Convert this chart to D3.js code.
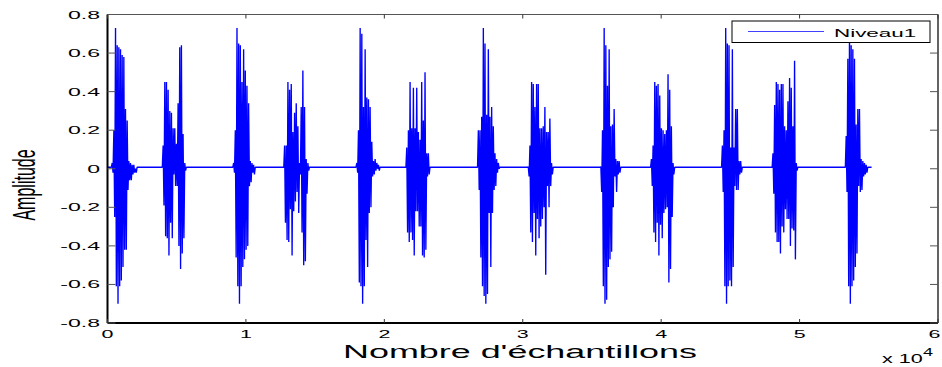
<!DOCTYPE html>
<html><head><meta charset="utf-8">
<script src="https://cdn.jsdelivr.net/npm/d3@7"></script>
<style>
body{margin:0;background:#fff}
svg{display:block}
text{font-family:"Liberation Sans",Arial,sans-serif;fill:#000}
</style>
</head><body>
<svg id="chart" width="942" height="367"></svg>
<script>
// ---- data ----
const xTickValues = [0, 10000, 20000, 30000, 40000, 50000, 60000];
const xTickLabels = ["0", "1", "2", "3", "4", "5", "6"];
const yTickValues = [0.8, 0.6, 0.4, 0.2, 0, -0.2, -0.4, -0.6, -0.8];
const yTickLabels = ["0.8", "0.6", "0.4", "0.2", "0", "-0.2", "-0.4", "-0.6", "-0.8"];
const seriesName = "Niveau1";
const xLabel = "Nombre d'échantillons";
const yLabel = "Amplitude";
const xMultiplier = "x 10";
const xExponent = "4";
const baselineLevel = 0.008;
const signalLength = 55200;
const halfPeriod = 60; // samples between a crest and the next trough
const burstStart = [340, 4020, 9115, 12795, 18013, 21620, 26793, 30400, 35642, 39297, 44423, 48078, 53367];
const burstHigh = [
  [0.03,0.20,0.73,0.64,0.63,0.62,0.59,0.58,0.31,0.25,0.04,0.03,0.02,0.02,0.00],
  [0.12,0.45,0.45,0.41,0.30,0.29,0.21,0.21,0.13,0.34,0.63,0.64,0.18,0.03],
  [0.03,0.20,0.73,0.65,0.64,0.45,0.62,0.51,0.43,0.34,0.04,0.03,0.02],
  [0.12,0.12,0.45,0.41,0.44,0.19,0.29,0.34,0.22,0.03,0.32,0.51,0.32,0.05,0.03],
  [0.03,0.20,0.73,0.70,0.32,0.62,0.37,0.36,0.32,0.14,0.04,0.05,0.03,0.02],
  [0.11,0.20,0.45,0.21,0.42,0.21,0.42,0.19,0.15,0.45,0.25,0.50,0.08,0.08],
  [0.20,0.20,0.27,0.73,0.65,0.28,0.62,0.27,0.32,0.22,0.08,0.05,0.03],
  [0.01,0.12,0.45,0.44,0.32,0.44,0.44,0.21,0.21,0.22,0.32,0.19,0.19,0.26,0.03],
  [0.01,0.20,0.73,0.64,0.43,0.62,0.22,0.23,0.31,0.05,0.04,0.04],
  [0.05,0.12,0.45,0.43,0.44,0.38,0.21,0.20,0.18,0.20,0.49,0.41,0.22,0.03],
  [0.12,0.20,0.73,0.65,0.64,0.11,0.62,0.11,0.31,0.31,0.04,0.04],
  [0.08,0.33,0.45,0.44,0.41,0.44,0.44,0.22,0.20,0.35,0.47,0.42,0.22,0.56,0.03],
  [0.17,0.57,0.73,0.64,0.62,0.57,0.23,0.31,0.31,0.05,0.04,0.03,0.02]
];
const burstLow = [
  [-0.02,-0.25,-0.61,-0.70,-0.61,-0.58,-0.51,-0.42,-0.42,-0.11,-0.06,-0.06,-0.03,-0.02,-0.02],
  [-0.19,-0.35,-0.36,-0.45,-0.28,-0.36,-0.03,-0.09,-0.09,-0.40,-0.52,-0.44,-0.36,-0.01],
  [-0.02,-0.46,-0.61,-0.70,-0.61,-0.51,-0.47,-0.42,-0.40,-0.09,-0.07,-0.02,-0.03],
  [-0.28,-0.37,-0.38,-0.21,-0.45,-0.22,-0.17,-0.12,-0.23,-0.03,-0.33,-0.50,-0.48,-0.13,-0.01],
  [-0.02,-0.59,-0.61,-0.70,-0.61,-0.37,-0.51,-0.23,-0.20,-0.04,-0.03,-0.01,0.00,-0.01],
  [-0.33,-0.38,-0.33,-0.37,-0.45,-0.22,-0.22,-0.30,-0.30,-0.45,-0.46,-0.42,-0.04,-0.03],
  [-0.11,-0.46,-0.61,-0.66,-0.70,-0.65,-0.23,-0.51,-0.23,-0.11,-0.09,-0.02,0.00],
  [-0.04,-0.33,-0.38,-0.23,-0.45,-0.26,-0.36,-0.30,-0.26,-0.20,-0.55,-0.09,-0.20,-0.09,-0.03],
  [-0.12,-0.61,-0.70,-0.68,-0.51,-0.47,-0.43,-0.20,-0.04,-0.12,-0.03,-0.02],
  [-0.09,-0.33,-0.38,-0.28,-0.45,-0.29,-0.36,-0.23,-0.21,-0.20,-0.59,-0.52,-0.25,-0.03],
  [-0.12,-0.61,-0.70,-0.61,-0.58,-0.61,-0.51,-0.09,-0.11,-0.11,-0.03,-0.02],
  [-0.13,-0.33,-0.38,-0.38,-0.44,-0.30,-0.33,-0.21,-0.26,-0.26,-0.40,-0.31,-0.32,-0.47,-0.01],
  [-0.12,-0.61,-0.70,-0.61,-0.58,-0.51,-0.44,-0.09,-0.12,-0.11,-0.04,-0.03,-0.02]
];

// ---- build the signal polyline from the readings ----
const points = [[0, baselineLevel]];
burstStart.forEach((s, b) => {
  points.push([s - halfPeriod, baselineLevel]);
  burstHigh[b].forEach((h, i) => {
    points.push([s + 2 * i * halfPeriod, h]);
    points.push([s + (2 * i + 1) * halfPeriod, burstLow[b][i]]);
  });
  points.push([s + 2 * burstHigh[b].length * halfPeriod, baselineLevel]);
});
points.push([signalLength, baselineLevel]);

// ---- layout ----
const L = 107.5, R = 938, T = 14.5, B = 323;
const x = d3.scaleLinear().domain([0, 60000]).range([L, R]);
const y = d3.scaleLinear().domain([-0.8, 0.8]).range([B, T]);
const svg = d3.select("#chart");
const SX = 2.1; // horizontal stretch of the text in the reference

// signal
svg.append("path")
  .datum(points)
  .attr("fill", "none")
  .attr("stroke", "#0000ff")
  .attr("stroke-width", 1.35)
  .attr("stroke-linejoin", "bevel")
  .attr("d", d3.line().x(d => x(d[0])).y(d => y(d[1])));

// axes box
svg.append("line").attr("x1", L).attr("x2", R).attr("y1", T).attr("y2", T).attr("stroke", "#555").attr("stroke-width", 1.2);
svg.append("line").attr("x1", R).attr("x2", R).attr("y1", T).attr("y2", B).attr("stroke", "#222").attr("stroke-width", 1.4);
svg.append("line").attr("x1", L).attr("x2", R).attr("y1", B).attr("y2", B).attr("stroke", "#000").attr("stroke-width", 1.8);
svg.append("line").attr("x1", L).attr("x2", L).attr("y1", T).attr("y2", B).attr("stroke", "#000").attr("stroke-width", 2);

// y ticks (inside, both sides)
const yt = svg.append("g");
yt.selectAll("line.l").data(yTickValues).join("line")
  .attr("x1", L).attr("x2", L + 8).attr("y1", d => y(d)).attr("y2", d => y(d))
  .attr("stroke", "#555").attr("stroke-width", 1);
yt.selectAll("line.r").data(yTickValues).join("line")
  .attr("x1", R - 8).attr("x2", R).attr("y1", d => y(d)).attr("y2", d => y(d))
  .attr("stroke", "#555").attr("stroke-width", 1);
yt.selectAll("text").data(yTickValues).join("text")
  .attr("text-anchor", "end")
  .attr("font-size", 11)
  .attr("transform", d => `translate(100,${y(d) + 4}) scale(${SX},1)`)
  .text((d, i) => yTickLabels[i]);

// x ticks (inside, both sides)
const xt = svg.append("g");
xt.selectAll("line.b").data(xTickValues).join("line")
  .attr("x1", d => x(d)).attr("x2", d => x(d)).attr("y1", B).attr("y2", B - 4)
  .attr("stroke", "#333").attr("stroke-width", 1);
xt.selectAll("line.t").data(xTickValues).join("line")
  .attr("x1", d => x(d)).attr("x2", d => x(d)).attr("y1", T).attr("y2", T + 4)
  .attr("stroke", "#333").attr("stroke-width", 1);
xt.selectAll("text").data(xTickValues).join("text")
  .attr("text-anchor", "middle")
  .attr("font-size", 11)
  .attr("transform", d => `translate(${Math.min(x(d), 934.5)},337.5) scale(1.95,1)`)
  .text((d, i) => xTickLabels[i]);

// exponent
svg.append("text").attr("font-size", 12)
  .attr("transform", "translate(882,363) scale(1.8,1)").text(xMultiplier);
svg.append("text").attr("font-size", 10)
  .attr("transform", "translate(923,356) scale(1.8,1)").text(xExponent);

// axis labels
svg.append("text").attr("text-anchor", "middle").attr("font-size", 18.6)
  .attr("transform", "translate(520,358) scale(1.93,1)").text(xLabel);
svg.append("text").attr("text-anchor", "middle").attr("font-size", 16)
  .attr("transform", "translate(35,185) scale(1.95,1) rotate(-90)").text(yLabel);

// legend
const lg = svg.append("g");
lg.append("rect").attr("x", 732).attr("y", 21).attr("width", 198).attr("height", 21.5)
  .attr("fill", "#fff").attr("stroke", "#000").attr("stroke-width", 1);
lg.append("line").attr("x1", 748).attr("x2", 824).attr("y1", 31.5).attr("y2", 31.5)
  .attr("stroke", "#0000ff").attr("stroke-opacity", 0.75).attr("stroke-width", 1);
lg.append("text").attr("font-size", 11.5)
  .attr("transform", "translate(834,36.5) scale(1.95,1)").text(seriesName);
</script>
</body></html>
